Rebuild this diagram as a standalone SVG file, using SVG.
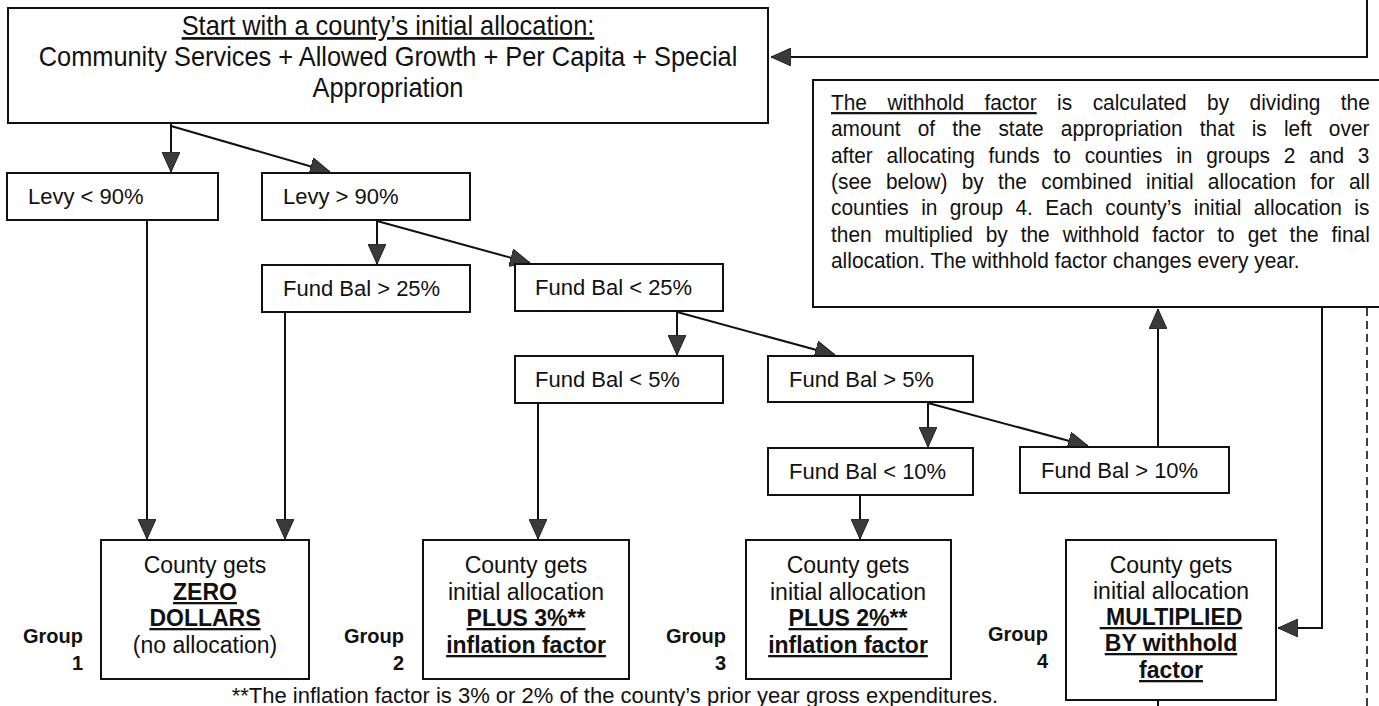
<svg xmlns="http://www.w3.org/2000/svg" width="1379" height="706" viewBox="0 0 1379 706">
<style>
.box{fill:#fff;stroke:#111;stroke-width:2}
.t{font-family:"Liberation Sans",Arial,sans-serif;font-size:22px;fill:#111}
.c{text-anchor:middle;font-size:23px}
.s{text-anchor:middle;font-size:27px}
.w{font-size:22px}
.b{font-weight:bold;text-decoration:underline}
.u{text-decoration:underline}
.g{font-family:"Liberation Sans",Arial,sans-serif;font-size:20px;font-weight:bold;fill:#111;text-anchor:end}
.ln{fill:none;stroke:#111;stroke-width:2}
.dash{fill:none;stroke:#111;stroke-width:1.6;stroke-dasharray:8,5}
</style>
<defs>
<marker id="ah" markerUnits="userSpaceOnUse" markerWidth="20" markerHeight="18" viewBox="0 0 20 18" refX="20" refY="9" orient="auto">
<path d="M0,0 L20,9 L0,18 Z" fill="#3a3a3a" stroke="#222" stroke-width="1"/>
</marker>
</defs>
<rect width="1379" height="706" fill="#fff"/>

<g id="connectors">
<path class="ln" d="M171,124 V172" marker-end="url(#ah)"/>
<path class="ln" d="M171,126 L330,172" marker-end="url(#ah)"/>
<path class="ln" d="M377,221 V264" marker-end="url(#ah)"/>
<path class="ln" d="M377,221 L530,263" marker-end="url(#ah)"/>
<path class="ln" d="M677,312 V355" marker-end="url(#ah)"/>
<path class="ln" d="M677,312 L835,355" marker-end="url(#ah)"/>
<path class="ln" d="M928,403 V447" marker-end="url(#ah)"/>
<path class="ln" d="M928,403 L1088,446" marker-end="url(#ah)"/>
<path class="ln" d="M147,221 V539" marker-end="url(#ah)"/>
<path class="ln" d="M285,313 V539" marker-end="url(#ah)"/>
<path class="ln" d="M538,404 V539" marker-end="url(#ah)"/>
<path class="ln" d="M860,496 V539" marker-end="url(#ah)"/>
<path class="ln" d="M1158,446 V309" marker-end="url(#ah)"/>
<path class="ln" d="M1322,308 V628 H1278" marker-end="url(#ah)"/>
<path class="ln" d="M1367,0 V57 H771" marker-end="url(#ah)"/>
<path class="dash" d="M1367,308 V706"/>
<path class="ln" d="M1158,694 V706"/>
</g>

<g id="start">
<rect class="box" x="8" y="8" width="760" height="115"/>
<text class="t s u" transform="translate(388,35) scale(0.94,1)">Start with a county’s initial allocation:</text>
<text class="t s" transform="translate(388,66) scale(0.94,1)">Community Services + Allowed Growth + Per Capita + Special</text>
<text class="t s" transform="translate(388,97) scale(0.94,1)">Appropriation</text>
</g>

<g id="withhold">
<rect class="box" x="813" y="80" width="580" height="227"/>
<text class="t w" transform="translate(831,110) scale(0.95,1)" style="word-spacing:15.4px"><tspan class="u">The withhold factor</tspan> is calculated by dividing the</text>
<text class="t w" transform="translate(831,136.3) scale(0.95,1)" style="word-spacing:11.9px">amount of the state appropriation that is left over</text>
<text class="t w" transform="translate(831,162.6) scale(0.95,1)" style="word-spacing:8.4px">after allocating funds to counties in groups 2 and 3</text>
<text class="t w" transform="translate(831,189) scale(0.95,1)" style="word-spacing:8.9px">(see below) by the combined initial allocation for all</text>
<text class="t w" transform="translate(831,215.3) scale(0.95,1)" style="word-spacing:6.9px">counties in group 4. Each county’s initial allocation is</text>
<text class="t w" transform="translate(831,241.6) scale(0.95,1)" style="word-spacing:7.5px">then multiplied by the withhold factor to get the final</text>
<text class="t w" transform="translate(831,268) scale(0.95,1)">allocation. The withhold factor changes every year.</text>
</g>

<g id="levy-lt-90">
<rect class="box" x="7" y="173" width="211" height="47"/>
<text class="t" x="28" y="204">Levy &lt; 90%</text>
</g>
<g id="levy-gt-90">
<rect class="box" x="262" y="173" width="208" height="47"/>
<text class="t" x="283" y="204">Levy &gt; 90%</text>
</g>
<g id="fb-gt-25">
<rect class="box" x="262" y="265" width="208" height="47"/>
<text class="t" x="283" y="296">Fund Bal &gt; 25%</text>
</g>
<g id="fb-lt-25">
<rect class="box" x="515" y="264" width="208" height="47"/>
<text class="t" x="535" y="295">Fund Bal &lt; 25%</text>
</g>
<g id="fb-lt-5">
<rect class="box" x="515" y="356" width="208" height="47"/>
<text class="t" x="535" y="387">Fund Bal &lt; 5%</text>
</g>
<g id="fb-gt-5">
<rect class="box" x="768" y="356" width="205" height="46"/>
<text class="t" x="789" y="387">Fund Bal &gt; 5%</text>
</g>
<g id="fb-lt-10">
<rect class="box" x="768" y="448" width="205" height="47"/>
<text class="t" x="789" y="479">Fund Bal &lt; 10%</text>
</g>
<g id="fb-gt-10">
<rect class="box" x="1020" y="447" width="209" height="46"/>
<text class="t" x="1041" y="478">Fund Bal &gt; 10%</text>
</g>

<g id="group1">
<rect class="box" x="101" y="540" width="208" height="139"/>
<text class="t c" x="205" y="573">County gets</text>
<text class="t c b" x="205" y="600">ZERO</text>
<text class="t c b" x="205" y="626">DOLLARS</text>
<text class="t c" x="205" y="653">(no allocation)</text>
<text class="g" x="83" y="643">Group</text>
<text class="g" x="83" y="670">1</text>
</g>
<g id="group2">
<rect class="box" x="423" y="540" width="206" height="139"/>
<text class="t c" x="526" y="573">County gets</text>
<text class="t c" x="526" y="600">initial allocation</text>
<text class="t c b" x="526" y="626">PLUS 3%**</text>
<text class="t c b" x="526" y="653">inflation factor</text>
<text class="g" x="404" y="643">Group</text>
<text class="g" x="404" y="670">2</text>
</g>
<g id="group3">
<rect class="box" x="746" y="540" width="205" height="139"/>
<text class="t c" x="848" y="573">County gets</text>
<text class="t c" x="848" y="600">initial allocation</text>
<text class="t c b" x="848" y="626">PLUS 2%**</text>
<text class="t c b" x="848" y="653">inflation factor</text>
<text class="g" x="726" y="643">Group</text>
<text class="g" x="726" y="670">3</text>
</g>
<g id="group4">
<rect class="box" x="1066" y="540" width="210" height="160"/>
<text class="t c" x="1171" y="573">County gets</text>
<text class="t c" x="1171" y="599">initial allocation</text>
<text class="t c b" x="1171" y="625" style="white-space:pre"> MULTIPLIED</text>
<text class="t c b" x="1171" y="651">BY withhold</text>
<text class="t c b" x="1171" y="678">factor</text>
<text class="g" x="1048" y="641">Group</text>
<text class="g" x="1048" y="668">4</text>
</g>

<g id="footnote">
<text class="t" x="998" y="703" style="text-anchor:end">**The inflation factor is 3% or 2% of the county’s prior year gross expenditures.</text>
</g>
</svg>
